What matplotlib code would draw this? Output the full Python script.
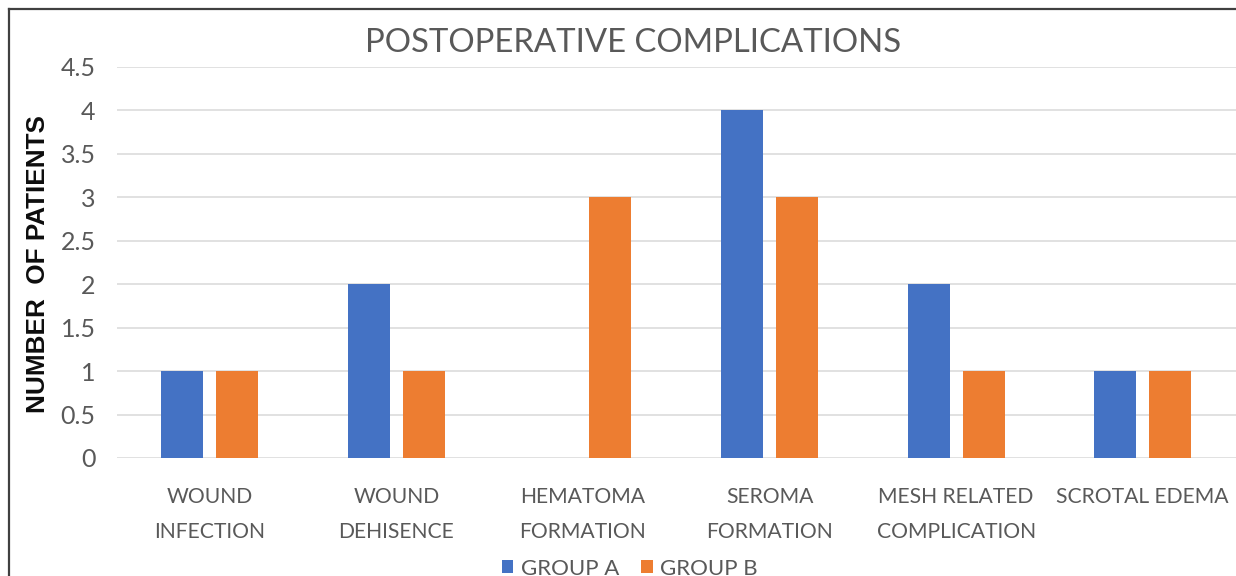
import matplotlib

matplotlib.use("Agg")
import matplotlib.pyplot as plt
from matplotlib.lines import Line2D
import numpy as np

categories = [
    "WOUND\nINFECTION",
    "WOUND\nDEHISENCE",
    "HEMATOMA\nFORMATION",
    "SEROMA\nFORMATION",
    "MESH RELATED\nCOMPLICATION",
    "SCROTAL EDEMA",
]
group_a = [1, 2, 0, 4, 2, 1]
group_b = [1, 1, 3, 3, 1, 1]
series_names = ["GROUP A", "GROUP B"]
y_ticks = [0, 0.5, 1, 1.5, 2, 2.5, 3, 3.5, 4, 4.5]
y_tick_labels = ["0", "0.5", "1", "1.5", "2", "2.5", "3", "3.5", "4", "4.5"]

BLUE = "#4472C4"
ORANGE = "#ED7D31"
TEXT_GREY = "#595959"
GRID_GREY = "#D9D9D9"
SANS = ["Lato", "DejaVu Sans"]


def main() -> None:
    fig = plt.figure(figsize=(12.36, 5.76), dpi=100)
    ax = fig.add_axes([0.0943, 0.2049, 0.9057, 0.6788])

    x = np.arange(len(categories))
    width = 0.225
    offset = 0.147
    ax.bar(x - offset, group_a, width, color=BLUE, label=series_names[0], zorder=3)
    ax.bar(x + offset, group_b, width, color=ORANGE, label=series_names[1], zorder=3)

    ax.set_xlim(-0.5, len(categories) - 0.5)
    ax.set_ylim(0, 4.5)
    ax.set_yticks(y_ticks)
    ax.set_yticklabels(y_tick_labels, family=SANS, fontsize=18, color=TEXT_GREY)
    ax.set_xticks(x)
    ax.set_xticklabels(categories, family=SANS, fontsize=15.2, color=TEXT_GREY,
                       linespacing=1.95)
    ax.tick_params(axis="y", length=0, pad=15)
    ax.tick_params(axis="x", length=0, pad=21)

    ax.grid(axis="y", color=GRID_GREY, linewidth=1.1, zorder=0)
    ax.set_axisbelow(True)
    for spine in ax.spines.values():
        spine.set_visible(False)

    fig.text(0.512, 0.9097, "POSTOPERATIVE COMPLICATIONS", family=SANS,
             fontsize=23.7, color=TEXT_GREY, ha="center", va="baseline")
    fig.text(38 / 1236, 1 - 264 / 576, "NUMBER  OF PATIENTS",
             family="Liberation Sans", fontweight="bold", fontsize=18.8,
             color="#0D0D0D", rotation=90, ha="center", va="center")

    # legend sits on the lower edge, so its text is partly clipped
    fig.legend(loc="center", bbox_to_anchor=(0.5097, 0.013), ncol=2, frameon=False,
               prop={"family": SANS, "size": 16}, labelcolor=TEXT_GREY,
               handlelength=0.5, handleheight=0.5, handletextpad=0.35,
               columnspacing=1.0)

    # outer frame: only the left and top edges fall inside the canvas
    border = dict(color="#404040", linewidth=1.6, transform=fig.transFigure)
    fig.add_artist(Line2D([8.5 / 1236, 8.5 / 1236], [0, 1 - 9 / 576], **border))
    fig.add_artist(Line2D([8.5 / 1236, 1], [1 - 9 / 576, 1 - 9 / 576], **border))

    fig.savefig("out.png", dpi=100, facecolor="white")
    plt.close(fig)


if __name__ == "__main__":
    main()
